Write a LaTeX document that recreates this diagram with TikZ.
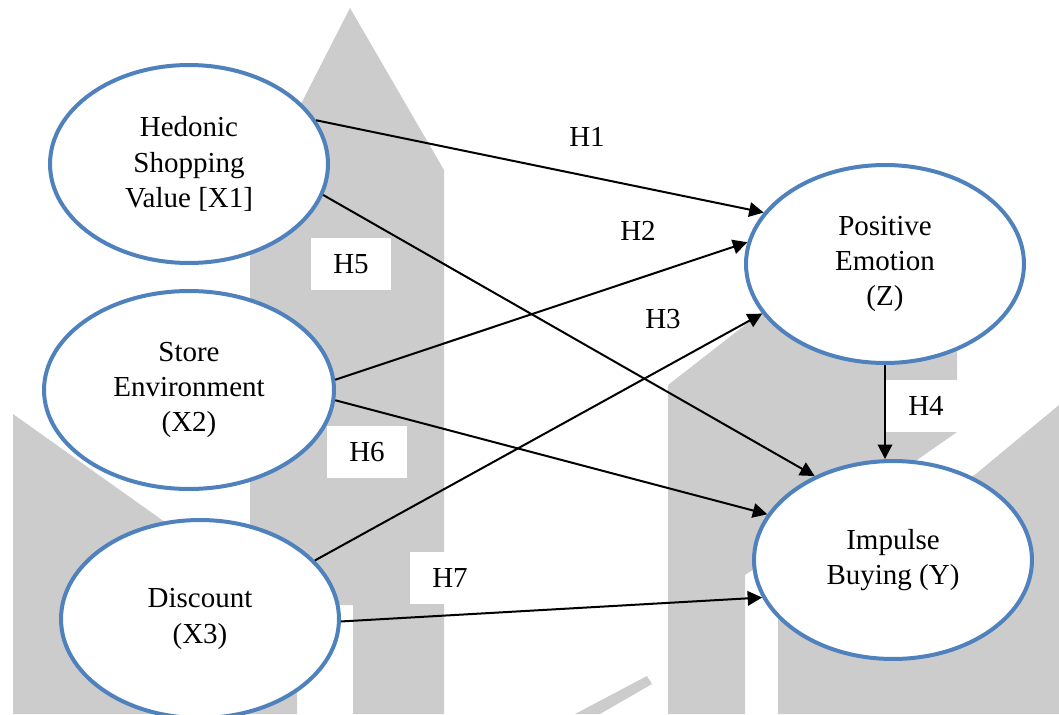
\documentclass[tikz,border=0pt]{standalone}
\usepackage{fontspec}
\setmainfont{Liberation Serif}
\usepackage{tikz}
\usetikzlibrary{shapes,arrows.meta,positioning,calc}
\definecolor{ellblue}{HTML}{4F81BD}
\definecolor{markgray}{HTML}{CCCCCC}

\begin{document}
\begin{tikzpicture}[x=0.02cm, y=-0.02cm,
    font=\fontsize{16.5}{20}\selectfont,
    var/.style={ellipse, draw=ellblue, line width=0.08cm, fill=white, minimum width=5.56cm, minimum height=3.96cm, align=center, inner sep=0pt},
    hyp/.style={fill=white, minimum width=1.6cm, minimum height=1.04cm, inner sep=0pt},
    link/.style={-{Triangle[length=0.29cm, width=0.29cm]}, line width=0.04cm}]
    \useasboundingbox (0,0) rectangle (1059,714);
    % Watermark
    \fill[markgray] (350,8) -- (444,170) -- (444,714) -- (353,714) -- (353,605) -- (300,605) -- (250,560) -- (250,200) -- (304,98) -- cycle;
    \fill[markgray] (13,414) -- (297,616) -- (297,714) -- (13,714) -- cycle;
    \fill[markgray] (668,385) -- (790,290) -- (957,290) -- (957,432) -- (860,500) -- (745,575) -- (745,714) -- (668,714) -- cycle;
    \fill[markgray] (1059,405) -- (977,473) -- (860,560) -- (778,600) -- (778,714) -- (1059,714) -- cycle;
    \fill[markgray] (647,676) -- (652,684) -- (600,714) -- (575,714) -- cycle;
    % Hypothesis labels
    \node[hyp] (h1) at (587,137) {H1};
    \node[hyp] (h2) at (638,231) {H2};
    \node[hyp] (h3) at (663,319) {H3};
    \node[hyp] (h4) at (926,406) {H4};
    \node[hyp] (h5) at (351,264) {H5};
    \node[hyp] (h6) at (367,452) {H6};
    \node[hyp] (h7) at (450,578) {H7};
    % Variables
    \node[var] (x1) at (189,164) {Hedonic\\Shopping\\Value [X1]};
    \node[var, minimum width=5.8cm] (x2) at (189,390) {Store\\Environment\\(X2)};
    \node[var] (x3) at (200,619) {Discount\\(X3)};
    \node[var] (z) at (885,264) {Positive\\Emotion\\(Z)};
    \node[var] (y) at (893,560) {Impulse\\Buying (Y)};
    % Paths
    \draw[link] (x1.19) -- (z.157);
    \draw[link] (x1.-13) -- (y.133);
    \draw[link] (x2.4) -- (z.171);
    \draw[link] (x2.-4) -- (y.160);
    \draw[link] (x3.27) -- (z.202);
    \draw[link] (x3.-1) -- (y.196);
    \draw[link] (z.south) -- (z.south |- y.north);
\end{tikzpicture}
\end{document}
